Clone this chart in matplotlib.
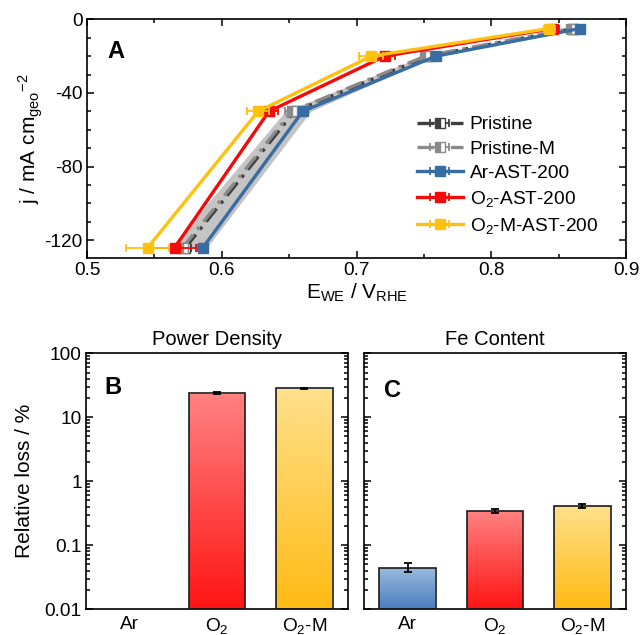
import numpy as np
import matplotlib
matplotlib.use("Agg")
import matplotlib.pyplot as plt
from matplotlib.colors import LinearSegmentedColormap
from matplotlib.transforms import blended_transform_factory
from matplotlib.ticker import MultipleLocator, LogLocator, NullFormatter, FuncFormatter

plt.rcParams["font.family"] = ["Liberation Sans", "DejaVu Sans"]
plt.rcParams["mathtext.fontset"] = "custom"
plt.rcParams["mathtext.rm"] = "Liberation Sans"
plt.rcParams["mathtext.it"] = "Liberation Sans:italic"
plt.rcParams["mathtext.bf"] = "Liberation Sans:bold"
plt.rcParams["axes.unicode_minus"] = False
plt.rcParams["axes.linewidth"] = 1.2

# polarisation curves (j in mA cm-2, E in V vs RHE)
j_vals = [-124, -50, -20, -5]

e_pristine = [0.573, 0.654, 0.753, 0.861]
e_pristine_m = [0.571, 0.652, 0.751, 0.859]
e_band_lo = [0.562, 0.647, 0.749, 0.857]
e_band_hi = [0.589, 0.666, 0.758, 0.866]
err_pristine = [0.004, 0.005, 0.003, 0.003]

e_ar = [0.586, 0.660, 0.759, 0.866]
err_ar = [0.004, 0.003, 0.003, 0.003]
e_o2 = [0.565, 0.635, 0.721, 0.846]
err_o2 = [0.016, 0.007, 0.0075, 0.004]
e_o2m = [0.545, 0.627, 0.711, 0.843]
err_o2m = [0.016, 0.008, 0.009, 0.004]

# relative losses after AST
categories = ["Ar", "O$_2$", "O$_2$-M"]
power_loss = [0.0, 23.7, 28.3]
power_err = [0.0, 1.0, 0.8]
fe_loss = [0.0445, 0.342, 0.41]
fe_err = [0.007, 0.03, 0.03]

c_dark = "#3f3f3f"
c_grey = "#8a8a8a"
c_band = "#c4c4c4"
c_ar = "#386da3"
c_o2 = "#f50a0a"
c_o2m = "#ffc10e"

bar_grad = {
    0: ("#4a7fbf", "#9bbbdf"),
    1: ("#ff1414", "#ff8282"),
    2: ("#ffbb14", "#ffe08c"),
}

TICK_FS = 13.7
LABEL_FS = 15

W, H = 641, 635
fig = plt.figure(figsize=(W / 100, H / 100), dpi=100)


def box(l, t, r, b):
    return [l / W, 1 - b / H, (r - l) / W, (b - t) / H]


axA = fig.add_axes(box(87, 19.3, 626, 258))
axB = fig.add_axes(box(86, 353.3, 348, 609))
axC = fig.add_axes(box(364, 353.3, 626, 609))

# --- panel A ---
axA.fill_betweenx(j_vals, e_band_lo, e_band_hi, color=c_band, lw=0, zorder=1)

pk = dict(lw=2.4, marker="s", ms=6.5, capsize=3, elinewidth=1.3, capthick=1.3)
axA.errorbar(e_pristine, j_vals, xerr=err_pristine, color=c_dark, ls=(0, (5, 2, 1, 2)),
             fillstyle="left", mfc=c_dark, mfcalt="white", mec=c_dark,
             label="Pristine", zorder=2, **pk)
axA.errorbar(e_pristine_m, j_vals, xerr=err_pristine, color=c_grey, ls=(0, (5, 2, 1, 2)),
             fillstyle="left", mfc=c_grey, mfcalt="white", mec=c_grey,
             label="Pristine-M", zorder=2, **pk)
axA.errorbar(e_ar, j_vals, xerr=err_ar, color=c_ar, label="Ar-AST-200", zorder=3, **pk)
axA.errorbar(e_o2, j_vals, xerr=err_o2, color=c_o2, label="O$_2$-AST-200", zorder=4, **pk)
axA.errorbar(e_o2m, j_vals, xerr=err_o2m, color=c_o2m, label="O$_2$-M-AST-200", zorder=5, **pk)

axA.set_xlim(0.5, 0.9)
axA.set_ylim(-129.6, 0)
axA.xaxis.set_major_locator(MultipleLocator(0.1))
axA.xaxis.set_minor_locator(MultipleLocator(0.05))
axA.yaxis.set_major_locator(MultipleLocator(40))
axA.yaxis.set_minor_locator(MultipleLocator(10))
axA.xaxis.set_major_formatter(FuncFormatter(lambda v, p: f"{v:.1f}"))
axA.tick_params(which="both", direction="in", top=True, right=True, labelsize=TICK_FS,
                width=1.1, pad=3)
axA.tick_params(which="major", length=5)
axA.tick_params(which="minor", length=3)
axA.set_xlabel(r"E$_\mathrm{WE}$ / V$_\mathrm{RHE}$", fontsize=LABEL_FS, labelpad=2)
axA.set_ylabel(r"j / mA cm$_\mathrm{geo}$$^\mathrm{-2}$", fontsize=LABEL_FS, labelpad=0)
axA.text(0.037, 0.915, "A", transform=axA.transAxes, fontsize=17, fontweight="bold",
         va="top", ha="left")
axA.legend(loc="upper left", bbox_to_anchor=(0.612, 0.595), frameon=False, fontsize=13.8,
           handlelength=2.4, handletextpad=0.35, labelspacing=0.36, borderpad=0,
           borderaxespad=0)


# --- panels B and C ---
def gradient_bars(ax, values, errs):
    x = np.arange(len(values))
    ymin, ymax = 0.01, 100
    ax.set_yscale("log")
    ax.set_ylim(ymin, ymax)
    ax.set_xlim(-0.5, len(values) - 0.5)
    trans = blended_transform_factory(ax.transData, ax.transAxes)
    grad = np.linspace(0, 1, 256).reshape(-1, 1)
    for i, v in enumerate(values):
        if v <= ymin:
            continue
        patch = ax.bar(x[i], v - ymin, width=0.65, bottom=ymin, facecolor="none",
                       edgecolor="#1a1a1a", lw=1.2, zorder=3)[0]
        top = (np.log10(v) - np.log10(ymin)) / (np.log10(ymax) - np.log10(ymin))
        cmap = LinearSegmentedColormap.from_list("g", bar_grad[i])
        im = ax.imshow(grad, cmap=cmap, origin="lower", aspect="auto",
                       extent=(x[i] - 0.325, x[i] + 0.325, 0, top),
                       transform=trans, zorder=2, interpolation="bilinear")
        im.set_clip_path(patch)
        ax.errorbar(x[i], v, yerr=errs[i], color="black", lw=0, elinewidth=1.3,
                    capsize=3, capthick=1.3, zorder=4)
    ax.set_xticks(x)
    ax.set_xticklabels(categories)
    ax.yaxis.set_major_locator(LogLocator(base=10, numticks=10))
    ax.yaxis.set_minor_locator(LogLocator(base=10, subs=np.arange(2, 10), numticks=10))
    ax.yaxis.set_minor_formatter(NullFormatter())
    ax.tick_params(axis="x", length=0, labelsize=TICK_FS, pad=5)
    ax.tick_params(axis="y", which="both", direction="in", right=True, labelsize=TICK_FS,
                   width=1.1, pad=3)
    ax.tick_params(axis="y", which="major", length=5)
    ax.tick_params(axis="y", which="minor", length=3)


gradient_bars(axB, power_loss, power_err)
gradient_bars(axC, fe_loss, fe_err)

axB.yaxis.set_major_formatter(FuncFormatter(lambda v, p: f"{v:g}"))
axB.set_ylabel("Relative loss / %", fontsize=LABEL_FS, labelpad=8)
axC.tick_params(axis="y", labelleft=False)

axB.set_title("Power Density", fontsize=14.5, pad=6)
axC.set_title("Fe Content", fontsize=14.5, pad=6)
axB.text(0.07, 0.91, "B", transform=axB.transAxes, fontsize=17, fontweight="bold",
         va="top", ha="left")
axC.text(0.075, 0.9, "C", transform=axC.transAxes, fontsize=17, fontweight="bold",
         va="top", ha="left")

fig.savefig("out.png", dpi=100)
